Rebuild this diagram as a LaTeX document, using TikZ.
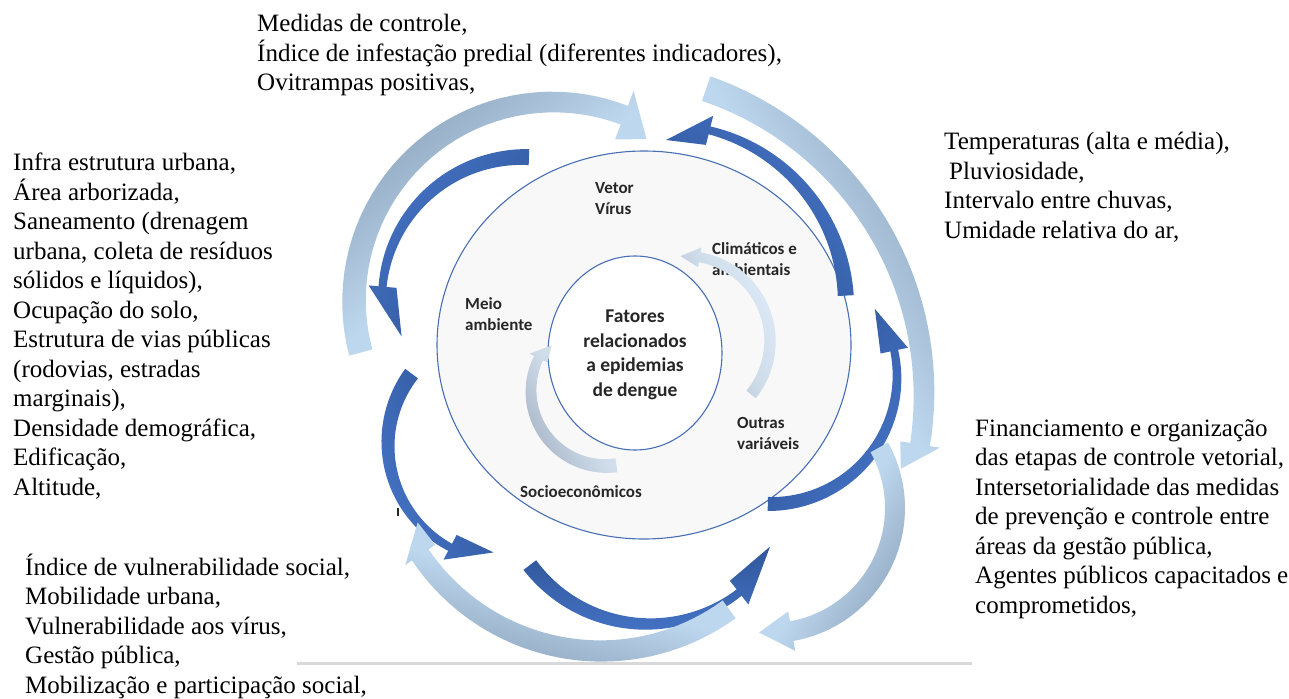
\documentclass[tikz,border=0pt]{standalone}
\usepackage{fontspec}
\setmainfont{Liberation Serif}
\newfontfamily\calibri{Carlito}

\definecolor{ringblue}{RGB}{72,110,180}
\definecolor{ringfill}{RGB}{248,248,248}
\definecolor{deepblue}{RGB}{47,85,151}
\definecolor{midblue}{RGB}{68,114,196}
\definecolor{steelgray}{RGB}{143,167,191}
\definecolor{paleblue}{RGB}{189,215,238}
\definecolor{mistblue}{RGB}{222,235,247}
\definecolor{ashblue}{RGB}{168,182,200}
\definecolor{labelgray}{RGB}{38,38,38}

\begin{document}
\begin{tikzpicture}[x=1pt,y=-1pt,
  serif/.style={align=left,anchor=base west,inner sep=0pt,font=\fontsize{25}{29.5}\selectfont},
  lbl/.style={align=left,anchor=base west,inner sep=0pt,text=labelgray,font=\calibri\bfseries\fontsize{17}{21}\selectfont},
  ring/.style={draw=ringblue,line width=1.1pt}]

\useasboundingbox (0,0) rectangle (1289,698);

% the two rings
\coordinate (O) at (644,345);
\coordinate (I) at (635,353);
\filldraw[ring,fill=ringfill] (O) ellipse[x radius=207,y radius=194];
\filldraw[ring,fill=white] (I) ellipse[x radius=87,y radius=97];

% base west sits on the last line
\node[lbl] (vetor) at (595,214) {Vetor\\Vírus};
\node[lbl] (climatico) at (712,275) {Climáticos e\\ambientais};
\node[lbl] (meio) at (465,330) {Meio\\ambiente};
\node[lbl] (outras) at (737,449) {Outras\\variáveis};
\node[lbl] (socio) at (520,497) {Socioeconômicos};
\node[align=center,inner sep=0pt,text=labelgray,font=\calibri\bfseries\fontsize{19.5}{24.5}\selectfont]
  (fatores) at (635,355) {Fatores\\relacionados\\a epidemias\\de dengue};

% curved band arrows: centre, tail/head radius, tail/head angle, half widths,
% head half width, tip angle offset, tip radius offset, shading angle
\foreach \cx/\cy/\rt/\rh/\at/\ah/\wt/\wh/\hw/\dt/\dr/\sa in {
    685/341/85/85/39/-80/6/5/10/-13/0/116,
    606/391/75/75/82/206/7/5/10/14/-4/120}
{
  \pgfmathsetmacro\ko{(\rh+\wh-\rt-\wt)/(\ah-(\at))}
  \pgfmathsetmacro\ki{(\rh-\wh-\rt+\wt)/(\ah-(\at))}
  \shade[left color=ashblue,right color=mistblue,middle color=mistblue!70!ashblue,shading angle=\sa]
    plot[domain=\at:\ah,samples=40,variable=\p]
      ({\cx+(\rt+\wt+\ko*(\p-(\at)))*cos(\p)},{\cy+(\rt+\wt+\ko*(\p-(\at)))*sin(\p)})
    -- ({\cx+(\rh+\hw)*cos(\ah)},{\cy+(\rh+\hw)*sin(\ah)})
    -- ({\cx+(\rh+\dr)*cos(\ah+\dt)},{\cy+(\rh+\dr)*sin(\ah+\dt)})
    -- ({\cx+(\rh-\hw)*cos(\ah)},{\cy+(\rh-\hw)*sin(\ah)})
    -- plot[domain=\ah:\at,samples=40,variable=\p]
      ({\cx+(\rt-\wt+\ki*(\p-(\at)))*cos(\p)},{\cy+(\rt-\wt+\ki*(\p-(\at)))*sin(\p)})
    -- cycle;
}

% dark blue ring, counter-clockwise
\foreach \cx/\cy/\rt/\rh/\at/\ah/\wt/\wh/\hw/\dt/\dr/\sa in {
    524/299/142/142/272/185/8/4/14/-22/-14/232,
    505/444/117/117/217/118/8/4/14/-22/-8/-67,
    648/476/148/148/143/52/8/4/15/-22/-7/2,
    770/377/127/127/91/-12/7/4/14/-21/-2/58,
    666/305/180/180/-3/-76/8/4/15/-14/-15/136}
{
  \pgfmathsetmacro\ko{(\rh+\wh-\rt-\wt)/(\ah-(\at))}
  \pgfmathsetmacro\ki{(\rh-\wh-\rt+\wt)/(\ah-(\at))}
  \shade[left color=deepblue,right color=midblue,shading angle=\sa]
    plot[domain=\at:\ah,samples=40,variable=\p]
      ({\cx+(\rt+\wt+\ko*(\p-(\at)))*cos(\p)},{\cy+(\rt+\wt+\ko*(\p-(\at)))*sin(\p)})
    -- ({\cx+(\rh+\hw)*cos(\ah)},{\cy+(\rh+\hw)*sin(\ah)})
    -- ({\cx+(\rh+\dr)*cos(\ah+\dt)},{\cy+(\rh+\dr)*sin(\ah+\dt)})
    -- ({\cx+(\rh-\hw)*cos(\ah)},{\cy+(\rh-\hw)*sin(\ah)})
    -- plot[domain=\ah:\at,samples=40,variable=\p]
      ({\cx+(\rt-\wt+\ki*(\p-(\at)))*cos(\p)},{\cy+(\rt-\wt+\ki*(\p-(\at)))*sin(\p)})
    -- cycle;
}

% outer ring, clockwise
\foreach \cx/\cy/\rt/\rh/\at/\ah/\wt/\wh/\hw/\dt/\dr/\sa in {
    553/301/199/199/165/291/12/10/26/9/-12/39,
    601/394/323/323/-71/9/13/10/20/5/-14/-60,
    770/508/125/125/-29/80/10/10/20/15/0/-122,
    601/433/218/218/54/146/11/10/18/8/-14/165}
{
  \pgfmathsetmacro\ko{(\rh+\wh-\rt-\wt)/(\ah-(\at))}
  \pgfmathsetmacro\ki{(\rh-\wh-\rt+\wt)/(\ah-(\at))}
  \shade[left color=steelgray,right color=paleblue,middle color=paleblue,shading angle=\sa]
    plot[domain=\at:\ah,samples=40,variable=\p]
      ({\cx+(\rt+\wt+\ko*(\p-(\at)))*cos(\p)},{\cy+(\rt+\wt+\ko*(\p-(\at)))*sin(\p)})
    -- ({\cx+(\rh+\hw)*cos(\ah)},{\cy+(\rh+\hw)*sin(\ah)})
    -- ({\cx+(\rh+\dr)*cos(\ah+\dt)},{\cy+(\rh+\dr)*sin(\ah+\dt)})
    -- ({\cx+(\rh-\hw)*cos(\ah)},{\cy+(\rh-\hw)*sin(\ah)})
    -- plot[domain=\ah:\at,samples=40,variable=\p]
      ({\cx+(\rt-\wt+\ki*(\p-(\at)))*cos(\p)},{\cy+(\rt-\wt+\ki*(\p-(\at)))*sin(\p)})
    -- cycle;
}

% factor lists (anchored on their last baseline)
\node[serif] (medidas) at (257,91) {Medidas de controle,\\Índice de infestação predial (diferentes indicadores),\\Ovitrampas positivas,};
\node[serif] (infra) at (13,495) {Infra estrutura urbana,\\Área arborizada,\\Saneamento (drenagem\\urbana, coleta de resíduos\\sólidos e líquidos),\\Ocupação do solo,\\Estrutura de vias públicas\\(rodovias, estradas\\marginais),\\Densidade demográfica,\\Edificação,\\Altitude,};
\node[serif] (clima) at (944,238) {Temperaturas (alta e média),\\\hspace{5pt}Pluviosidade,\\Intervalo entre chuvas,\\Umidade relativa do ar,};
\node[serif] (gestao) at (975,613) {Financiamento e organização\\das etapas de controle vetorial,\\Intersetorialidade das medidas\\de prevenção e controle entre\\áreas da gestão pública,\\Agentes públicos capacitados e\\comprometidos,};
\node[serif] (social) at (25,693) {Índice de vulnerabilidade social,\\Mobilidade urbana,\\Vulnerabilidade aos vírus,\\Gestão pública,\\Mobilização e participação social,};

\draw[black!15,line width=3pt] (297,663) -- (972,663);
\draw[labelgray,line width=1.5pt] (398,508) -- (398,516);
\end{tikzpicture}
\end{document}
